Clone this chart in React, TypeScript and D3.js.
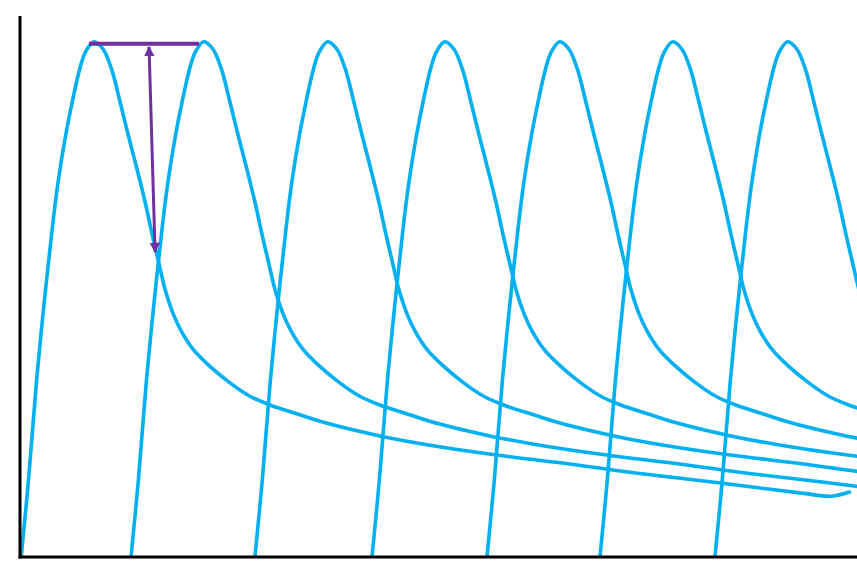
import React from "react";
import * as d3 from "d3";

// Concentration–time profile after a single dose (hours after dose, % of peak)
const profileTime = [0, 0.63, 1.33, 1.96, 2.65, 3.14, 3.83, 4.4, 5.06, 5.55, 6.26, 7.04, 7.79, 8.5, 9.21, 9.94, 10.65, 11.28, 11.94, 12.37, 13.08, 13.81, 14.8, 16.24, 17.96, 19.68, 21.4, 23.98, 26.56, 30.87, 35.17, 40.9, 46.69, 52.5, 59.98, 67.12, 69.7, 71.25];
const profileConc = [0, 14.9, 34.4, 48.9, 63.3, 72.2, 81.9, 88.4, 94.9, 98.1, 100, 98.6, 94.6, 88.4, 81.9, 75.5, 69.0, 62.5, 56.1, 52.0, 47.2, 43.7, 40.3, 37.0, 33.8, 31.2, 29.5, 27.6, 25.8, 23.5, 21.7, 19.8, 18.2, 16.4, 14.4, 12.4, 11.8, 12.6];

// Dose administration times (hours)
const doseTimes = [0.1, 9.55, 20.21, 30.28, 40.17, 49.89, 59.78];

// Annotation: peak-to-peak line and peak-to-trough arrow
const peakLine = { t1: 5.94, t2: 15.4, c: 99.6 };
const troughArrow = { tTop: 11.1, cTop: 99.0, tBottom: 11.62, cBottom: 59.2 };

const W = 857;
const H = 579;

export default function App() {
  const x = d3.scaleLinear().domain([0, 72]).range([20, 857]);
  const y = d3.scaleLinear().domain([0, 105]).range([557, 16]);

  const line = d3
    .line<[number, number]>()
    .x((d) => x(d[0]))
    .y((d) => y(d[1]))
    .curve(d3.curveCatmullRom.alpha(0.5));

  const profile: [number, number][] = profileTime.map((t, i) => [t, profileConc[i]]);

  const cyan = "#00B0F0";
  const purple = "#7030A0";

  const ax1 = x(troughArrow.tTop);
  const ay1 = y(troughArrow.cTop);
  const ax2 = x(troughArrow.tBottom);
  const ay2 = y(troughArrow.cBottom);

  return (
    <svg
      width={W}
      height={H}
      style={{ position: "absolute", left: 0, top: 0, background: "#fff" }}
    >
      <defs>
        <clipPath id="plot">
          <rect x={x(0)} y={0} width={x(72) - x(0)} height={y(0)} />
        </clipPath>
        <marker id="ah" viewBox="0 0 10 10" refX="9" refY="5" markerWidth="3.5" markerHeight="3.6" orient="auto-start-reverse" markerUnits="strokeWidth">
          <path d="M0,0 L10,5 L0,10 z" fill={purple} />
        </marker>
      </defs>
      <g clipPath="url(#plot)">
        {doseTimes.map((s, i) => (
          <path
            key={i}
            d={line(profile.map(([t, c]) => [t + s, c] as [number, number])) || ""}
            fill="none"
            stroke={cyan}
            strokeWidth={3.6}
            strokeLinejoin="round"
            strokeLinecap="round"
          />
        ))}
      </g>
      {/* axes */}
      <line x1={x(0)} y1={y(105)} x2={x(0)} y2={y(0) + 1.5} stroke="#000" strokeWidth={3} />
      <line x1={x(0) - 1.5} y1={y(0)} x2={x(72)} y2={y(0)} stroke="#000" strokeWidth={3} />
      {/* annotations */}
      <line
        x1={x(peakLine.t1)}
        y1={y(peakLine.c)}
        x2={x(peakLine.t2)}
        y2={y(peakLine.c)}
        stroke={purple}
        strokeWidth={4}
      />
      <line
        x1={ax1}
        y1={ay1}
        x2={ax2}
        y2={ay2}
        stroke={purple}
        strokeWidth={3}
        markerStart="url(#ah)"
        markerEnd="url(#ah)"
      />
    </svg>
  );
}
